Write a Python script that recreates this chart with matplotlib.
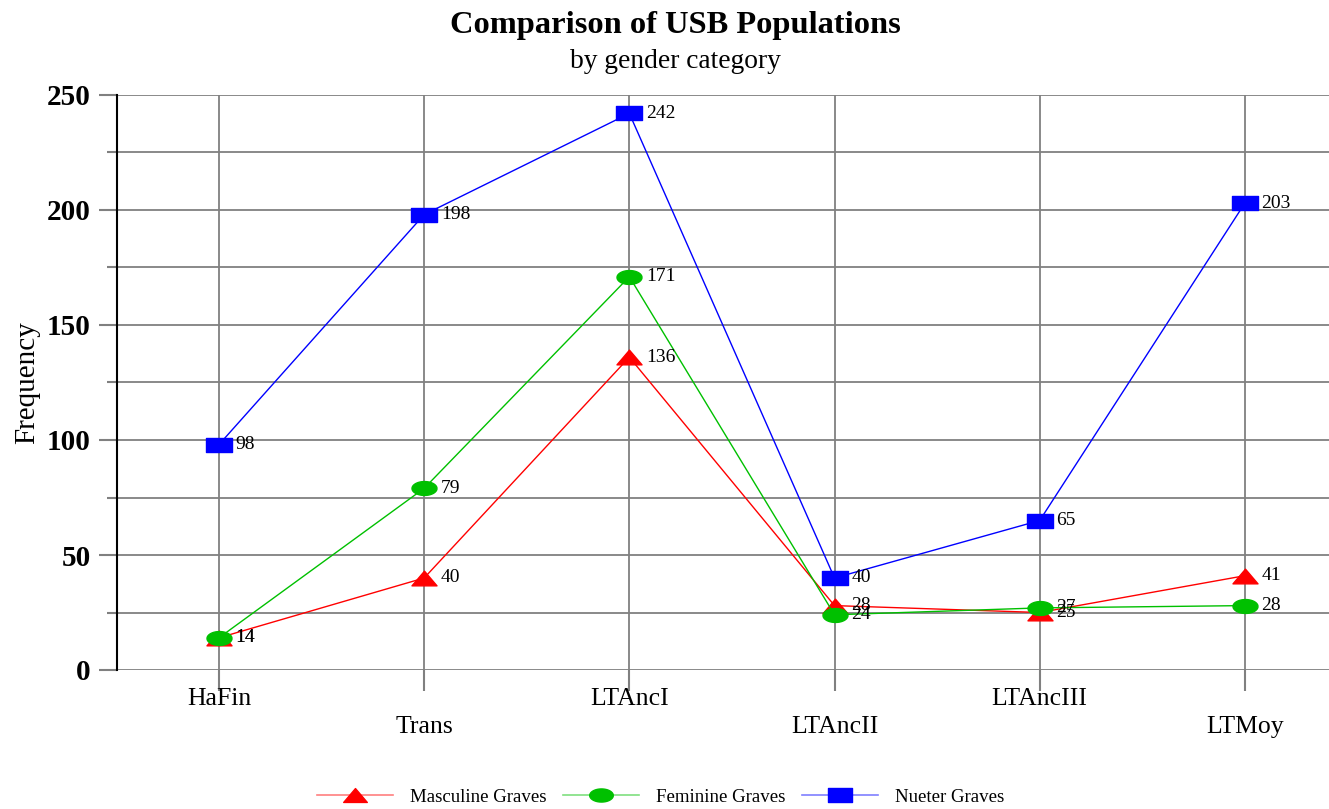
import numpy as np
import matplotlib.pyplot as plt
from matplotlib.path import Path
from matplotlib.lines import Line2D

categories = ["HaFin", "Trans", "LTAncI", "LTAncII", "LTAncIII", "LTMoy"]
masculine = [14, 40, 136, 28, 25, 41]
feminine = [14, 79, 171, 24, 27, 28]
neuter = [98, 198, 242, 40, 65, 203]

plt.rcParams['font.family'] = ['Liberation Serif', 'DejaVu Serif']

# wide, flat markers like the original
rect = Path([(-1.67, -1), (1.67, -1), (1.67, 1), (-1.67, 1), (-1.67, -1)],
            [Path.MOVETO, Path.LINETO, Path.LINETO, Path.LINETO, Path.CLOSEPOLY])
t = np.linspace(0, 2 * np.pi, 60)
ellipse = Path(np.column_stack([1.8 * np.cos(t), np.sin(t)]))
tri = Path([(-1.7, -1), (1.7, -1), (0, 1), (-1.7, -1)],
           [Path.MOVETO, Path.LINETO, Path.LINETO, Path.CLOSEPOLY])

fig = plt.figure(figsize=(13.29, 8.09), dpi=100)
ax = fig.add_axes([117 / 1329, 1 - 670 / 809, 1 - 117 / 1329, 575 / 809])

x = np.arange(len(categories))
series = [
    (masculine, 'red', tri, "Masculine Graves"),
    (feminine, '#00c000', ellipse, "Feminine Graves"),
    (neuter, 'blue', rect, "Nueter Graves"),
]
handles = []
for vals, col, mk, lab in series:
    ax.plot(x, vals, color=col, lw=1, marker=mk, markersize=18,
            markerfacecolor=col, markeredgecolor=col, zorder=3)
    for xi, v in zip(x, vals):
        ax.annotate(str(v), (xi, v), xytext=(12, 0), textcoords='offset points',
                    va='center', ha='left', fontsize=14, zorder=4)
    ln = Line2D([], [], color=col, lw=1.2, alpha=0.5)
    m = Line2D([], [], ls='none', marker=mk, markersize=17, color=col)
    handles.append(((ln, m), lab))

ax.set_xlim(-0.497, 5.41)
ax.set_ylim(0, 250)
ax.set_yticks(np.arange(0, 251, 50))
ax.set_yticks(np.arange(25, 250, 50), minor=True)
ax.set_yticklabels([str(v) for v in range(0, 251, 50)], fontsize=21, fontweight='bold')
ax.set_xticks(x)
ax.set_xticklabels(categories, fontsize=18.5)
ax.tick_params(axis='x', length=15, width=1.5, color='#808080')
for i, tk in enumerate(ax.xaxis.get_major_ticks()):
    tk.set_pad(-2 if i % 2 == 0 else 18)
ax.tick_params(axis='y', which='major', length=13, width=1.5, color='#808080', pad=6)
ax.tick_params(axis='y', which='minor', length=7, width=1.5, color='#808080')
ax.grid(True, which='both', color='#808080', lw=1.3)
ax.set_axisbelow(True)
for s in ['top', 'right', 'bottom']:
    ax.spines[s].set_visible(False)
ax.spines['left'].set_color('black')
ax.spines['left'].set_linewidth(1.5)
ax.spines['left'].set_zorder(5)

ax.set_ylabel("Frequency", fontsize=21, labelpad=5)

fig.text(0.508, 1 - 25 / 809, "Comparison of USB Populations", ha='center', va='center',
         fontsize=23.4, fontweight='bold')
fig.text(0.508, 1 - 62 / 809, "by gender category", ha='center', va='center', fontsize=19.8)

leg = fig.legend([h for h, _ in handles], [l for _, l in handles], loc='center',
                 bbox_to_anchor=(0.497, 1 - 797 / 809), ncol=3, frameon=False,
                 fontsize=13.6, handlelength=4.0, columnspacing=0.9, handletextpad=0.9)

fig.savefig("out.png", dpi=100)
